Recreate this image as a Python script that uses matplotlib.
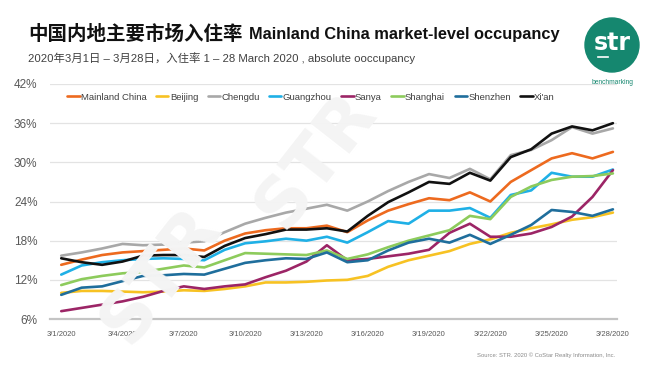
import matplotlib
matplotlib.use("Agg")
import matplotlib.pyplot as plt
from matplotlib import font_manager
from matplotlib.patches import Circle

# fonts: narrow latin face if there is one, CJK fallback
names = {f.name for f in font_manager.fontManager.ttflist}
latin = "Liberation Sans Narrow" if "Liberation Sans Narrow" in names else "Liberation Sans"
FAM = [latin, "Noto Sans CJK SC", "DejaVu Sans"]
plt.rcParams["font.family"] = FAM

# data: daily occupancy (%), 1-28 March 2020
dates = [f"3/{d}/2020" for d in range(1, 29)]
markets = ["Mainland China", "Beijing", "Chengdu", "Guangzhou",
           "Sanya", "Shanghai", "Shenzhen", "Xi'an"]
mainland = [14.3, 15.1, 15.8, 16.2, 16.4, 16.6, 16.8, 16.5, 18.0, 19.1, 19.6, 19.9, 19.9, 20.3,
            19.3, 21.1, 22.6, 23.6, 24.5, 24.2, 25.4, 24.0, 27.0, 28.8, 30.6, 31.4, 30.6, 31.6]
beijing = [10.0, 10.3, 10.3, 10.2, 10.1, 10.2, 10.4, 10.3, 10.6, 11.0, 11.6, 11.6, 11.7, 11.9,
           12.0, 12.6, 14.0, 15.0, 15.7, 16.4, 17.5, 18.2, 19.2, 19.9, 20.5, 21.2, 21.6, 22.3]
chengdu = [15.7, 16.2, 16.8, 17.5, 17.3, 17.4, 17.7, 17.9, 19.3, 20.6, 21.5, 22.3, 22.9, 23.5,
           22.6, 24.0, 25.6, 27.0, 28.2, 27.6, 29.0, 27.4, 31.1, 31.9, 33.4, 35.4, 34.4, 35.2]
guangzhou = [12.8, 14.2, 14.7, 15.0, 15.2, 15.3, 15.2, 15.0, 16.6, 17.6, 17.9, 18.3, 18.0, 18.6,
             17.7, 19.3, 21.0, 20.6, 22.6, 22.6, 23.0, 21.5, 25.0, 25.7, 28.4, 27.8, 27.8, 28.9]
sanya = [7.2, 7.7, 8.2, 8.7, 9.4, 10.3, 11.0, 10.6, 11.0, 11.3, 12.4, 13.4, 14.8, 17.3,
         15.0, 15.2, 15.6, 16.0, 16.6, 19.2, 20.6, 18.6, 18.6, 19.1, 20.1, 21.7, 24.7, 28.8]
shanghai = [11.2, 12.1, 12.6, 13.0, 13.2, 13.7, 14.2, 13.9, 15.0, 16.1, 16.0, 15.9, 15.8, 16.5,
            15.2, 15.9, 17.0, 18.0, 18.8, 19.6, 21.8, 21.3, 24.7, 26.3, 27.3, 27.8, 27.9, 28.3]
shenzhen = [9.7, 10.8, 11.0, 11.8, 12.6, 12.7, 12.9, 12.8, 13.7, 14.6, 15.0, 15.3, 15.2, 16.2,
            14.7, 15.0, 16.5, 17.7, 18.3, 17.7, 18.9, 17.5, 18.9, 20.4, 22.7, 22.4, 21.8, 22.8]
xian = [15.3, 14.7, 14.3, 14.8, 15.7, 15.8, 15.8, 15.5, 17.2, 18.4, 19.0, 19.7, 19.7, 19.9,
        19.4, 21.8, 23.9, 25.4, 27.0, 26.7, 28.4, 27.2, 30.8, 32.0, 34.4, 35.5, 34.9, 36.0]
series = [mainland, beijing, chengdu, guangzhou, sanya, shanghai, shenzhen, xian]
colors = ["#ED6A1F", "#F7C223", "#A8A8A8", "#1FB0E6",
          "#9C2566", "#8DCB5C", "#1F6E9C", "#111111"]
yticks = [6, 12, 18, 24, 30, 36, 42]

W, H = 669, 372
fig = plt.figure(figsize=(W / 100, H / 100), dpi=100)

# watermark behind everything
for (wx, wy) in [(160, 275), (315, 160)]:
    fig.text(wx / W, 1 - wy / H, "STR", fontsize=50, fontweight="bold", color="#f4f4f4",
             rotation=52, ha="center", va="center", family="DejaVu Sans", zorder=0)

ax = fig.add_axes([50 / W, 1 - 319 / H, (617 - 50) / W, (319 - 84) / H])
ax.patch.set_alpha(0)
x = list(range(len(dates)))
for name, vals, c in zip(markets, series, colors):
    ax.plot(x, vals, color=c, lw=1.9, label=name, solid_joinstyle="round",
            solid_capstyle="round", zorder=3)

ax.set_ylim(6, 42)
ax.set_yticks(yticks)
ax.set_yticklabels([f"{t}%" for t in yticks], fontsize=8.5, color="#595959")
ax.set_xlim(-0.55, 27.2)
ax.set_xticks(x[::3])
ax.set_xticklabels(dates[::3], fontsize=5.5, color="#595959")
ax.tick_params(length=0, pad=9)
ax.tick_params(axis="y", pad=9)
ax.grid(axis="y", color="#e3e3e3", lw=0.9)
ax.set_axisbelow(True)
for s in ["top", "right", "left"]:
    ax.spines[s].set_visible(False)
ax.spines["bottom"].set_color("#c4c4c4")
ax.spines["bottom"].set_linewidth(1.6)

leg = fig.legend(loc="center", bbox_to_anchor=(311 / W, 1 - 97 / H), ncol=8, frameon=False,
                 fontsize=6.8, handlelength=1.3, handletextpad=0.15, columnspacing=1.0)
for t in leg.get_texts():
    t.set_color("#404040")

# titles: chinese and english parts sized apart
fig.text(28 / W, 1 - 34 / H, "中国内地主要市场入住率",
         fontsize=14, fontweight="bold", color="#111111", va="center", ha="left")
fig.text(249 / W, 1 - 34 / H, "Mainland China market-level occupancy",
         fontsize=11.8, fontweight="bold", color="#111111", va="center", ha="left")
fig.text(28 / W, 1 - 58 / H,
         "2020年3月1日 – 3月28日，入住率 1 – 28 March 2020 , absolute ooccupancy",
         fontsize=8.2, color="#404040", va="center", ha="left")

# logo
teal = "#15876F"
lax = fig.add_axes([0, 0, 1, 1], zorder=5)
lax.set_xlim(0, W)
lax.set_ylim(H, 0)
lax.axis("off")
lax.add_patch(Circle((612, 45), 27, color=teal))
lax.text(612, 43, "str", color="white", fontsize=17, fontweight="bold",
         ha="center", va="center", family="DejaVu Sans")
lax.plot([598, 608], [57, 57], color="white", lw=1.2)
lax.text(612, 82, "benchmarking", color=teal, fontsize=4.8, ha="center", va="center")

fig.text(615 / W, 1 - 355 / H, "Source: STR. 2020 © CoStar Realty Information, Inc.",
         fontsize=4.2, color="#8a8a8a", ha="right", va="center")

fig.savefig("out.png", dpi=100)
